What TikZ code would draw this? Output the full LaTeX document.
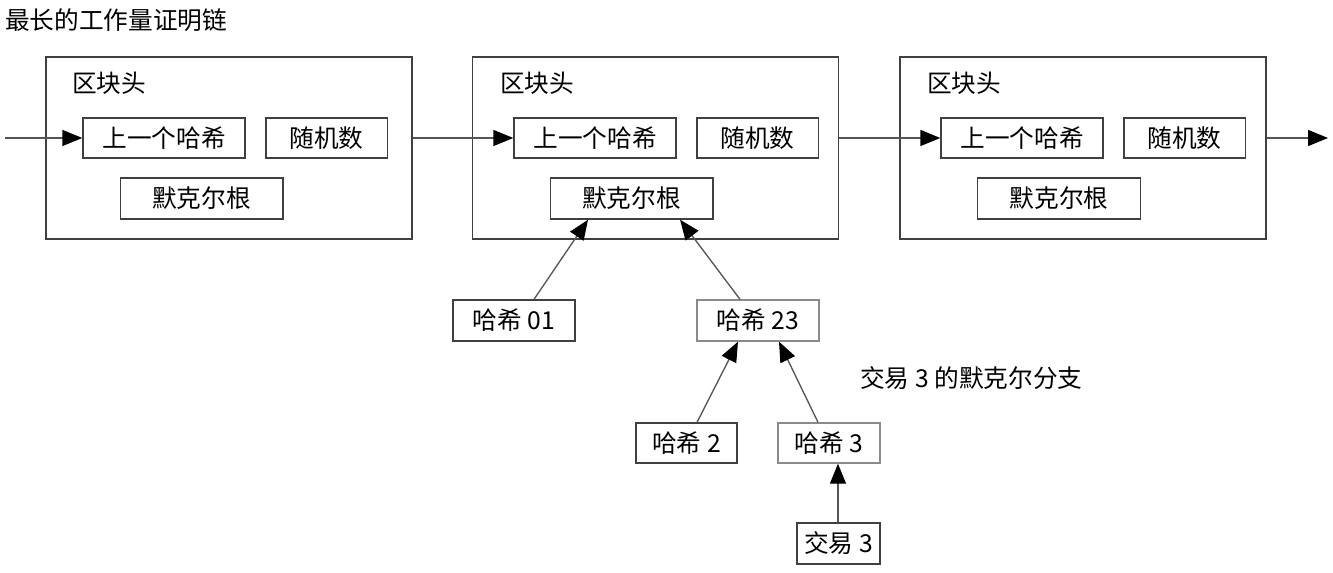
\documentclass[tikz,border=0pt]{standalone}
\usepackage{fontspec}
\setmainfont{Noto Sans CJK SC}
\usetikzlibrary{arrows.meta,calc}
\definecolor{boxline}{HTML}{404040}
\definecolor{conn}{HTML}{555555}
\definecolor{lightline}{HTML}{8A8A8A}
\tikzset{
  blockbox/.style={draw=boxline,line width=1pt,minimum width=274.5pt,minimum height=136.5pt,inner sep=0pt},
  fieldbox/.style={draw=boxline,line width=1pt,inner sep=0pt,font=\fontsize{18.5}{20}\selectfont},
  lightbox/.style={fieldbox,draw=lightline},
  lbl/.style={inner sep=0pt,anchor=west,font=\fontsize{18.5}{20}\selectfont},
  conn/.style={draw=conn,line width=1pt,-{Triangle[length=15pt,width=12pt,color=black]}}
}
\begin{document}
\begin{tikzpicture}[x=0.75pt,y=-0.75pt]
\useasboundingbox (0,0) rectangle (1333,573);
\node[lbl] (title) at (5,20) {最长的工作量证明链};
% blocks
\node[blockbox] (b1) at (229,148) {};
\node[blockbox] (b2) at (655.5,148) {};
\node[blockbox] (b3) at (1083,148) {};
\node[lbl] (hd1) at (72,83) {区块头};
\node[lbl] (hd2) at (500,83) {区块头};
\node[lbl] (hd3) at (927,83) {区块头};
% fields
\foreach \i/\x/\mx in {1/164/201.5, 2/595/631.5, 3/1022/1059}{
  \node[fieldbox,minimum width=121.5pt,minimum height=30pt] (p\i) at (\x,138) {上一个哈希};
  \node[fieldbox,minimum width=91pt,minimum height=30pt] (n\i) at (\x+162.5,138) {随机数};
  \node[fieldbox,minimum width=122pt,minimum height=30.75pt] (m\i) at (\mx,198.5) {默克尔根};
}
% chain
\coordinate (start) at (5,138);
\coordinate (finish) at (1328,138);
\draw[conn] (start) -- (p1.west);
\draw[conn] (b1.east |- p1.west) -- (p2.west);
\draw[conn] (b2.east |- p2.west) -- (p3.west);
\draw[conn] (b3.east |- p3.west) -- (finish);
% merkle tree
\node[fieldbox,minimum width=91.5pt,minimum height=30.75pt] (h01) at (514,320.5) {哈希 01};
\node[lightbox,minimum width=91.5pt,minimum height=30.75pt] (h23) at (758,320.5) {哈希 23};
\node[fieldbox,minimum width=75.75pt,minimum height=30pt] (h2) at (686.5,443) {哈希 2};
\node[lightbox,minimum width=76.5pt,minimum height=30pt] (h3) at (829,443) {哈希 3};
\node[fieldbox,minimum width=62.25pt,minimum height=30.75pt] (tx3) at (838.5,543.5) {交易 3};
\node[lbl] (branch) at (860,378) {交易 3 的默克尔分支};
\draw[conn] ([xshift=15pt]h01.north) -- ([xshift=-32.6pt]m2.south);
\draw[conn] ([xshift=-13.5pt]h23.north) -- ([xshift=36.4pt]m2.south);
\draw[conn] ([xshift=7.9pt]h2.north) -- ([xshift=-15pt]h23.south);
\draw[conn] ([xshift=-8.25pt]h3.north) -- ([xshift=15.75pt]h23.south);
\draw[conn] ([xshift=-0.4pt]tx3.north) -- ([xshift=-0.4pt]tx3.north |- h3.south);
\end{tikzpicture}
\end{document}
